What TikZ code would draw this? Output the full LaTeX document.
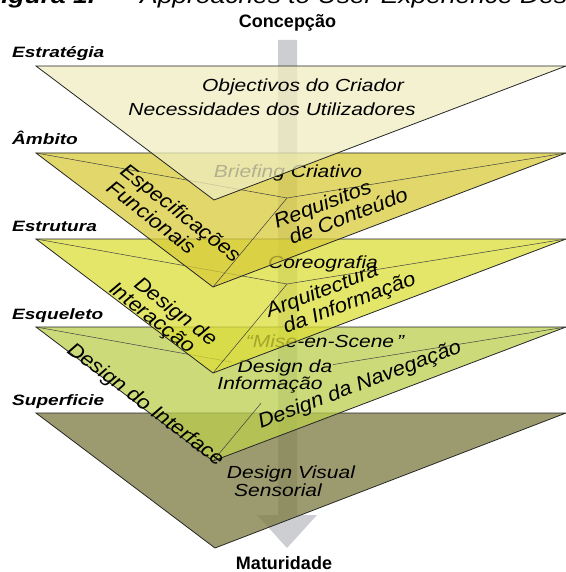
\documentclass[tikz,border=0pt]{standalone}
\usepackage{fontspec}
\setmainfont{Liberation Sans}
\newfontfamily\layerfont[FakeStretch=1.2]{Liberation Sans}
\newfontfamily\turnfont[FakeStretch=1.08]{Liberation Sans}
\newfontfamily\tagfont[FakeStretch=1.27]{Liberation Sans}
\usetikzlibrary{calc}

\definecolor{lay1}{RGB}{239,236,191}
\definecolor{lay2}{RGB}{216,202,58}
\definecolor{lay3}{RGB}{219,222,56}
\definecolor{lay4}{RGB}{187,206,78}
\definecolor{lay5}{RGB}{123,122,63}
\definecolor{bandgray}{RGB}{205,206,210}

\tikzset{
  sheet/.style={draw=black!85, line width=0.8pt, line join=miter, fill opacity=0.75},
  innerline/.style={draw=black!75, line width=0.5pt},
  flattext/.style={font=\layerfont\itshape\fontsize{17.5}{20}\selectfont, inner sep=0pt, anchor=base},
  turntext/.style={font=\turnfont\itshape\fontsize{20.3}{22}\selectfont, inner sep=0pt, anchor=base west},
  tagtext/.style={font=\tagfont\bfseries\itshape\fontsize{15}{17}\selectfont, inner sep=0pt, anchor=base west},
  endtext/.style={font=\bfseries\fontsize{18}{20}\selectfont, inner sep=0pt, anchor=base},
}

\begin{document}
\begin{tikzpicture}[x=1pt,y=-1pt]
\useasboundingbox (0,0) rectangle (565,572);

% caption line, running off the top edge
\begin{scope}
  \clip (0,0) rectangle (565,572);
  \node[font=\layerfont\bfseries\itshape\fontsize{22}{24}\selectfont, inner sep=0pt, anchor=base west] (fig) at (-15,4) {Figura 1.};
  \node[font=\layerfont\itshape\fontsize{22}{24}\selectfont, inner sep=0pt, anchor=base west] (cap) at (140,4) {Approaches to User Experience Design};
\end{scope}

% the downward arrow behind all the sheets
\fill[bandgray] (278,40) -- (297,40) -- (297,515) -- (317,515) -- (287,548)
  -- (257,515) -- (278,515) -- cycle;

% ---- Superficie
\coordinate (L5) at (36,413); \coordinate (R5) at (566,413); \coordinate (A5) at (215,548);
\filldraw[sheet, fill=lay5] (L5) -- (R5) -- (A5) -- cycle;
\node[flattext] (dv1) at (291,478) {Design Visual};
\node[flattext] (dv2) at (278,496) {Sensorial};

% ---- Esqueleto
\coordinate (L4) at (36,327); \coordinate (R4) at (566,327);
\coordinate (I4) at (287,372); \coordinate (A4) at (213,461);
\filldraw[sheet, fill=lay4] (L4) -- (R4) -- (A4) -- cycle;
\draw[innerline] (L4) -- ($(L4)!0.78!(I4)$);
\draw[innerline] (R4) -- ($(R4)!0.835!(I4)$);
\draw[innerline] ($(I4)!0.35!(A4)$) -- (A4);
\node[flattext] (mise) at (325,347) {“Mise-en-Scene\,”};
\node[flattext] (di1) at (285,372) {Design da};
\node[flattext] (di2) at (270,389) {Informação};
\node[turntext, rotate=-37] (dint) at (66,352) {Design do Interface};
\node[turntext, rotate=21] (dnav) at (261,429) {Design da Navegação};

% ---- Estrutura
\coordinate (L3) at (36,239); \coordinate (R3) at (566,239);
\coordinate (I3) at (287,284); \coordinate (A3) at (213,373);
\filldraw[sheet, fill=lay3] (L3) -- (R3) -- (A3) -- cycle;
\draw[innerline] (L3) -- (I3) -- (R3);
\draw[innerline] (I3) -- (A3);
\node[flattext] (coreo) at (323,268) {Coreografia};
\node[turntext, rotate=-38] (dia1) at (133,286) {Design de};
\node[turntext, rotate=-38] (dia2) at (108,291) {Interacção};
\node[turntext, rotate=21] (arq1) at (269,318) {Arquitectura};
\node[turntext, rotate=21] (arq2) at (286,334) {da Informação};

% ---- Âmbito
\coordinate (L2) at (36,153); \coordinate (R2) at (566,153);
\coordinate (I2) at (287,198); \coordinate (A2) at (213,287);
\filldraw[sheet, fill=lay2] (L2) -- (R2) -- (A2) -- cycle;
\draw[innerline] (L2) -- (I2) -- (R2);
\draw[innerline] (I2) -- (A2);
\node[flattext] (brief) at (288,177) {Briefing Criativo};
\node[turntext, rotate=-38] (esp1) at (119,173) {Especificações};
\node[turntext, rotate=-38] (esp2) at (105.5,190) {Funcionais};
\node[turntext, rotate=21] (req1) at (277,229) {Requisitos};
\node[turntext, rotate=21] (req2) at (292,245) {de Conteúdo};

% ---- Estratégia
\coordinate (L1) at (36,66); \coordinate (R1) at (566,66); \coordinate (A1) at (214,200);
\filldraw[sheet, fill=lay1] (L1) -- (R1) -- (A1) -- cycle;
\node[flattext] (obj) at (303,92) {Objectivos do Criador};
\node[flattext] (nec) at (272,116) {Necessidades dos Utilizadores};

% plane names
\node[tagtext] (t1) at (12,58) {Estratégia};
\node[tagtext] (t2) at (12,145) {Âmbito};
\node[tagtext] (t3) at (12,231) {Estrutura};
\node[tagtext] (t4) at (12,319) {Esqueleto};
\node[tagtext] (t5) at (12,405) {Superficie};

% ends of the arrow
\node[endtext] (conc) at (287.5,28) {Concepção};
\node[endtext] (mat) at (284,569.5) {Maturidade};
\end{tikzpicture}
\end{document}
